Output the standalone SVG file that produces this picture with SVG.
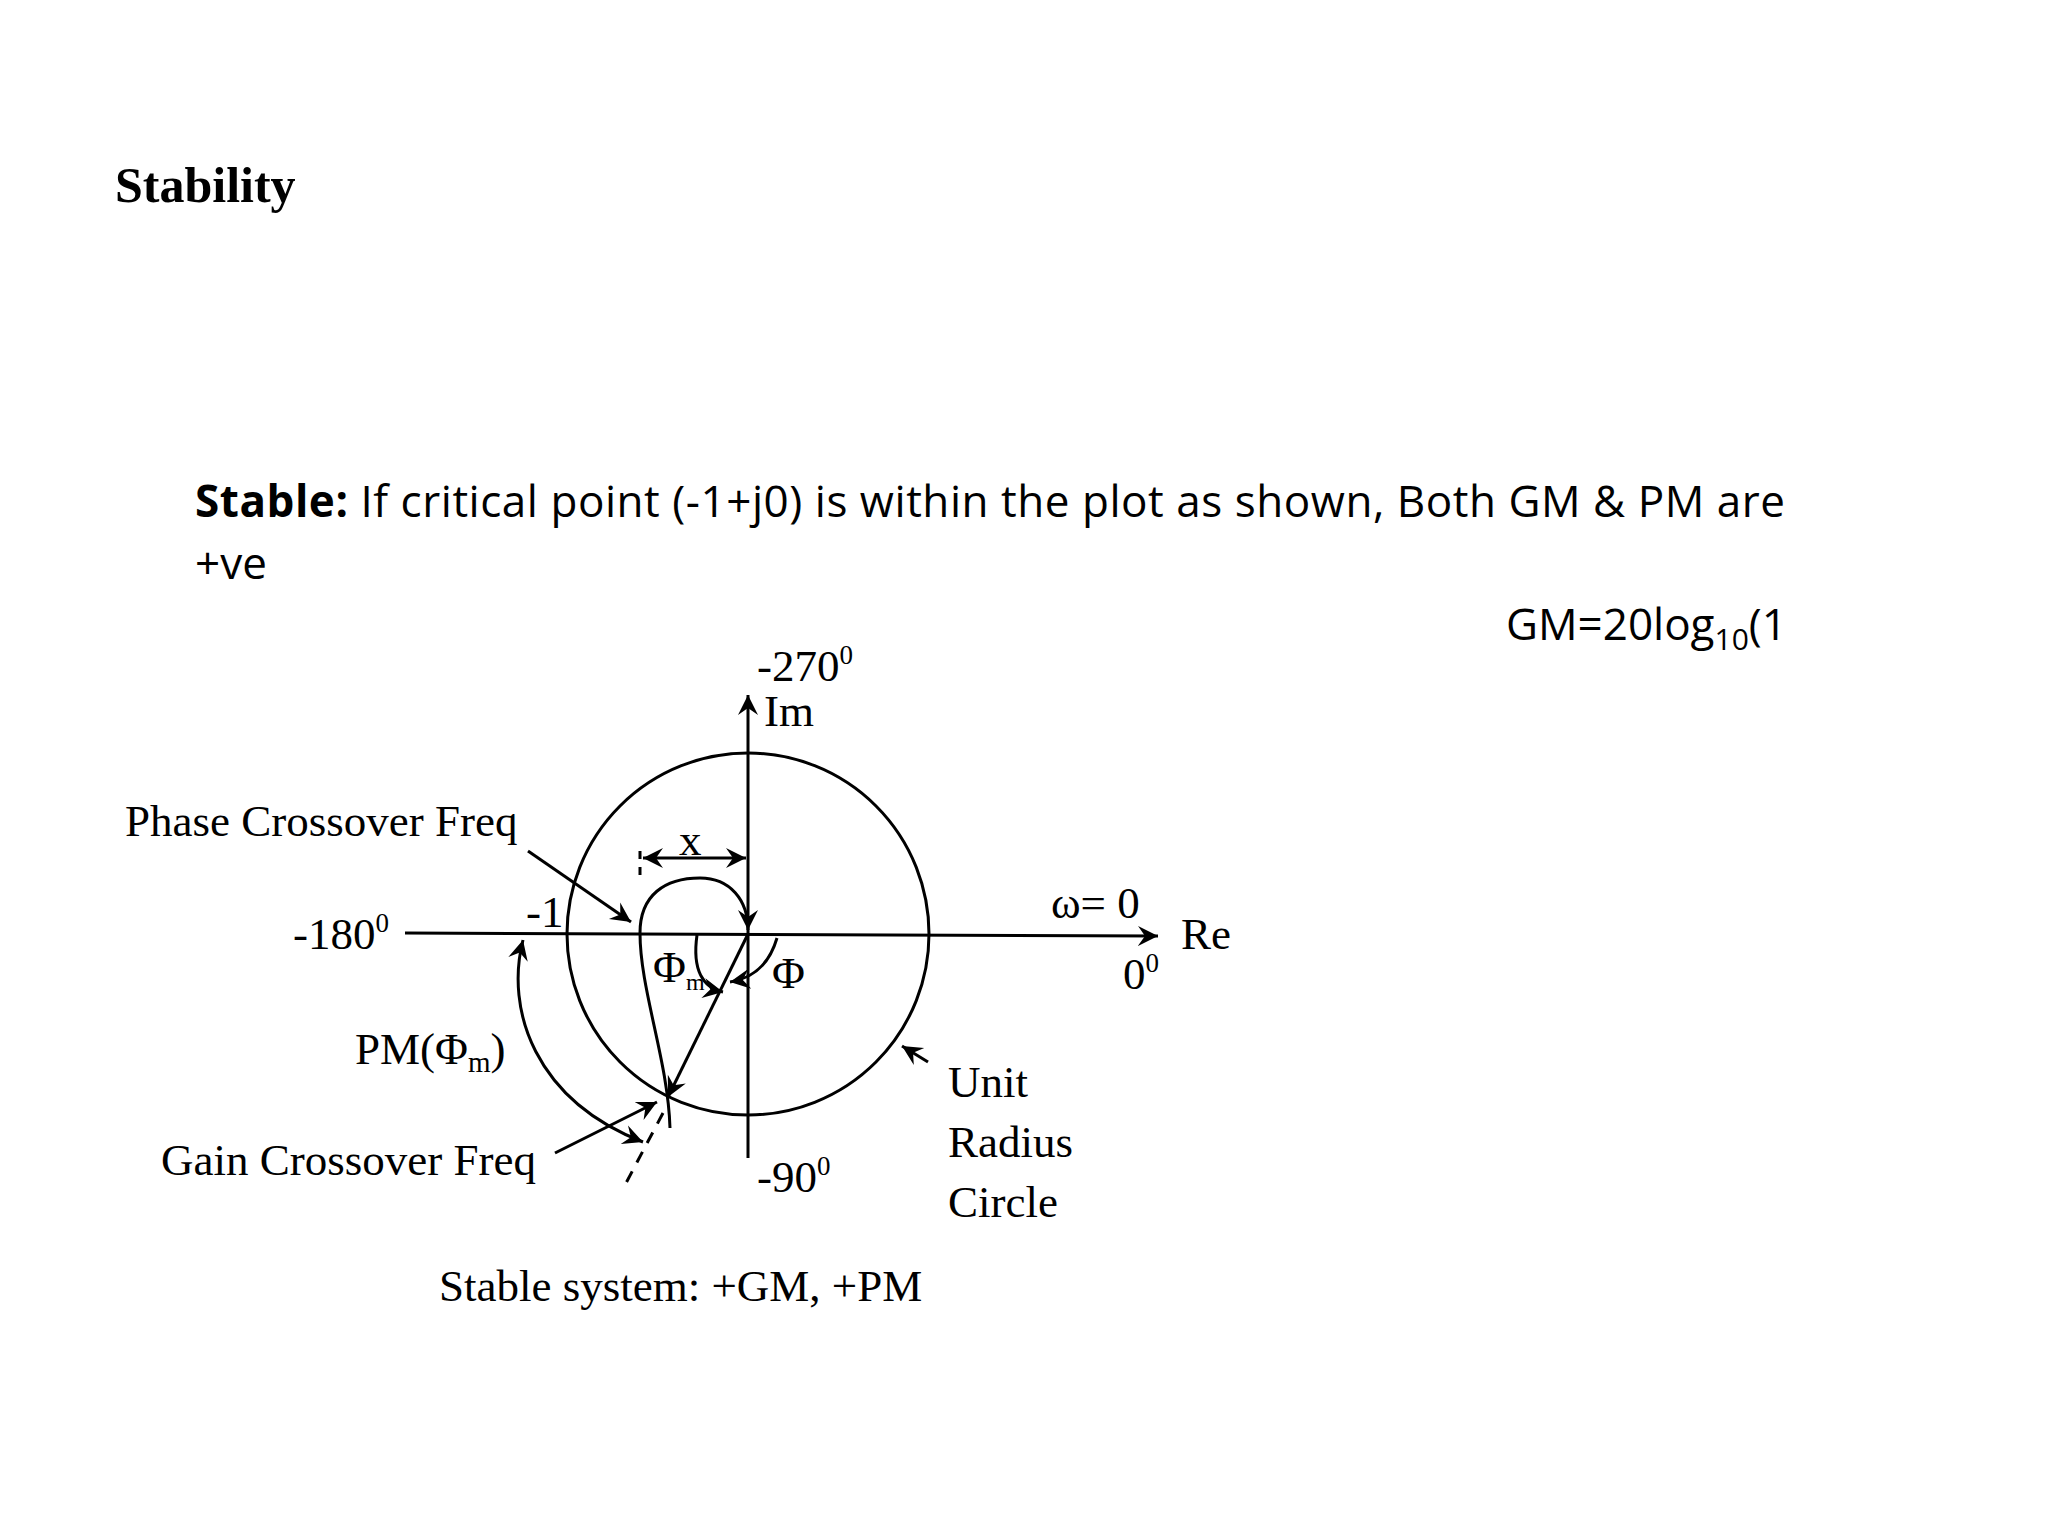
<svg xmlns="http://www.w3.org/2000/svg" width="2048" height="1536" viewBox="0 0 2048 1536">
<style>
.s{font-family:"Liberation Serif",serif;font-size:45px;fill:#000}
.c{font-family:"Open Sans","Liberation Sans",sans-serif;font-size:44px;fill:#000}
.l{fill:none;stroke:#000;stroke-width:3}
</style>
<defs>
<marker id="a" viewBox="-20 -12 22 24" refX="0" refY="0" markerWidth="22" markerHeight="24" orient="auto-start-reverse" markerUnits="userSpaceOnUse"><path d="M-20,-10 L0,0 L-20,10 L-13,0 Z" fill="#000"/></marker>
</defs>
<rect width="2048" height="1536" fill="#fff"/>
<text x="115" y="202" font-family="Liberation Serif,serif" font-weight="bold" font-size="50">Stability</text>
<text class="c" x="195" y="517" textLength="1590"><tspan font-weight="bold">Stable:</tspan> If critical point (-1+j0) is within the plot as shown, Both GM &amp; PM are</text>
<text class="c" x="195" y="579">+ve</text>
<text class="c" x="1506" y="640">GM=20log<tspan font-size="30" dy="10">10</tspan><tspan dy="-10">(1</tspan></text>
<g id="circle"><circle class="l" cx="748" cy="934" r="181"/></g>
<g id="connectors">
<line class="l" x1="748" y1="1158" x2="748" y2="695" marker-end="url(#a)"/>
<line class="l" x1="405" y1="933" x2="1158" y2="936" marker-end="url(#a)"/>
<line class="l" x1="528" y1="851" x2="631" y2="922" marker-end="url(#a)"/>
<line class="l" x1="643" y1="858" x2="746" y2="858" marker-start="url(#a)" marker-end="url(#a)"/>
<line class="l" x1="640" y1="851" x2="640" y2="883" stroke-dasharray="8 8"/>
<path class="l" d="M670,1128 C668,1060 640,990 640,933 C640,895 665,878 700,878 C730,878 748,900 748,930" marker-end="url(#a)"/>
<line class="l" x1="663" y1="1113" x2="625" y2="1185" stroke-dasharray="12 10"/>
<line class="l" x1="748" y1="934" x2="668" y2="1097" marker-end="url(#a)"/>
<path class="l" d="M697,935 C692,970 703,988 723,992" marker-end="url(#a)"/>
<path class="l" d="M777,938 C770,962 755,978 730,982" marker-end="url(#a)"/>
<path class="l" d="M523,940 C505,1010 535,1100 643,1142" marker-start="url(#a)" marker-end="url(#a)"/>
<line class="l" x1="555" y1="1153" x2="657" y2="1102" marker-end="url(#a)"/>
<line class="l" x1="928" y1="1062" x2="902" y2="1046" marker-end="url(#a)"/>
</g>
<g id="labels">
<text class="s" x="757" y="681">-270<tspan font-size="27" dy="-17">0</tspan></text>
<text class="s" x="764" y="726">Im</text>
<text class="s" x="293" y="949">-180<tspan font-size="27" dy="-17">0</tspan></text>
<text class="s" x="526" y="927">-1</text>
<text class="s" x="125" y="836">Phase Crossover Freq</text>
<text class="s" x="679" y="855">x</text>
<text class="s" x="653" y="982" font-size="36">Φ<tspan font-size="24" dy="8">m</tspan></text>
<text class="s" x="772" y="988">Φ</text>
<text class="s" x="355" y="1064">PM(Φ<tspan font-size="29" dy="8">m</tspan><tspan dy="-8">)</tspan></text>
<text class="s" x="161" y="1175">Gain Crossover Freq</text>
<text class="s" x="948" y="1097">Unit</text>
<text class="s" x="948" y="1157">Radius</text>
<text class="s" x="948" y="1217">Circle</text>
<text class="s" x="1051" y="918">ω= 0</text>
<text class="s" x="1181" y="949">Re</text>
<text class="s" x="1123" y="989">0<tspan font-size="27" dy="-17">0</tspan></text>
<text class="s" x="757" y="1192">-90<tspan font-size="27" dy="-17">0</tspan></text>
<text class="s" x="439" y="1301">Stable system: +GM, +PM</text>
</g>
</svg>
